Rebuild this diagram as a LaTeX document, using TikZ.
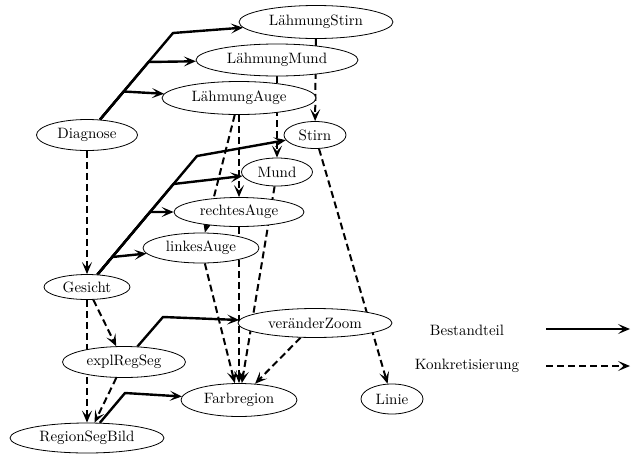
\documentclass[tikz,border=0pt]{standalone}
\usepackage{fontspec}
\setmainfont{lmroman10-regular.otf}
\usetikzlibrary{shapes.geometric,arrows.meta,backgrounds}
\begin{document}
\begin{tikzpicture}[x=1pt,y=-1pt,
  knoten/.style={ellipse,draw,line width=0.8pt,fill=white,inner sep=0pt,font=\fontsize{15}{18}\selectfont},
  legtext/.style={inner sep=0pt,font=\fontsize{15}{18}\selectfont},
  teil/.style={line width=2.4pt,-{Stealth[length=12pt,width=10pt,inset=5.5pt]}},
  konkret/.style={line width=2pt,dash pattern=on 7pt off 4pt,-{Stealth[length=12pt,width=10pt,inset=5.5pt]}},
]
\useasboundingbox (0,0) rectangle (631,453);

% nodes
\node[knoten,minimum width=154pt,minimum height=33pt] (ls) at (316,22) {LähmungStirn};
\node[knoten,minimum width=162pt,minimum height=32pt] (lm) at (277,60) {LähmungMund};
\node[knoten,minimum width=154pt,minimum height=33pt] (la) at (239,98) {LähmungAuge};
\node[knoten,minimum width=101pt,minimum height=31pt] (diag) at (87,135) {Diagnose};
\node[knoten,minimum width=62pt,minimum height=27pt] (stirn) at (315,135) {Stirn};
\node[knoten,minimum width=71pt,minimum height=28pt] (mund) at (277,172) {Mund};
\node[knoten,minimum width=130pt,minimum height=29pt] (rauge) at (239,212) {rechtesAuge};
\node[knoten,minimum width=116pt,minimum height=30pt] (lauge) at (201,248) {linkesAuge};
\node[knoten,minimum width=86pt,minimum height=25pt] (gesicht) at (87,287) {Gesicht};
\node[knoten,minimum width=154pt,minimum height=29pt] (vzoom) at (315,323) {veränderZoom};
\node[knoten,minimum width=123pt,minimum height=31pt] (expl) at (124,362) {explRegSeg};
\node[knoten,minimum width=116pt,minimum height=33pt] (farb) at (239,400) {Farbregion};
\node[knoten,minimum width=62pt,minimum height=30pt] (linie) at (392,399) {Linie};
\node[knoten,minimum width=154pt,minimum height=30pt] (rsb) at (87,438) {RegionSegBild};

% legend
\node[legtext] (lgteil) at (467,330) {Bestandteil};
\node[legtext] (lgkonk) at (467,366) {Konkretisierung};
\coordinate (l1a) at (546,329);
\coordinate (l1b) at (630,329);
\coordinate (l2a) at (546,366);
\coordinate (l2b) at (630,366);
\draw[teil] (l1a) -- (l1b);
\draw[konkret] (l2a) -- (l2b);

% bend points
\coordinate (c1) at (173,33);
\coordinate (c2) at (148.5,62);
\coordinate (c3) at (123.7,91.5);
\coordinate (c4) at (197,156);
\coordinate (c5) at (173.5,184);
\coordinate (c6) at (150,212);
\coordinate (c7) at (112.2,257);
\coordinate (c8) at (163,317);
\coordinate (c9) at (125,393);

\begin{pgfonlayer}{background}
% Bestandteil
\draw[teil] (diag) -- (c1) -- (ls);
\draw[teil] (diag) -- (c2) -- (lm);
\draw[teil] (diag) -- (c3) -- (la);
\draw[teil] (gesicht) -- (c4) -- (stirn.190);
\draw[teil] (gesicht) -- (c5) -- (mund);
\draw[teil] (gesicht) -- (c6) -- (rauge);
\draw[teil] (gesicht) -- (c7) -- (lauge);
\draw[teil] (expl) -- (c8) -- (vzoom);
\draw[teil] (rsb) -- (c9) -- (farb);
% Konkretisierung
\draw[konkret] (ls) -- (stirn);
\draw[konkret] (lm) -- (mund);
\draw[konkret] (la) -- (rauge);
\draw[konkret] (la) -- (lauge);
\draw[konkret] (mund) -- (farb);
\draw[konkret] (rauge) -- (farb);
\draw[konkret] (lauge) -- (farb);
\draw[konkret] (vzoom) -- (farb);
\draw[konkret] (stirn) -- (linie);
\draw[konkret] (diag) -- (gesicht);
\draw[konkret] (gesicht) -- (expl);
\draw[konkret] (gesicht) -- (rsb);
\draw[konkret] (expl) -- (rsb);
\end{pgfonlayer}
\end{tikzpicture}
\end{document}
